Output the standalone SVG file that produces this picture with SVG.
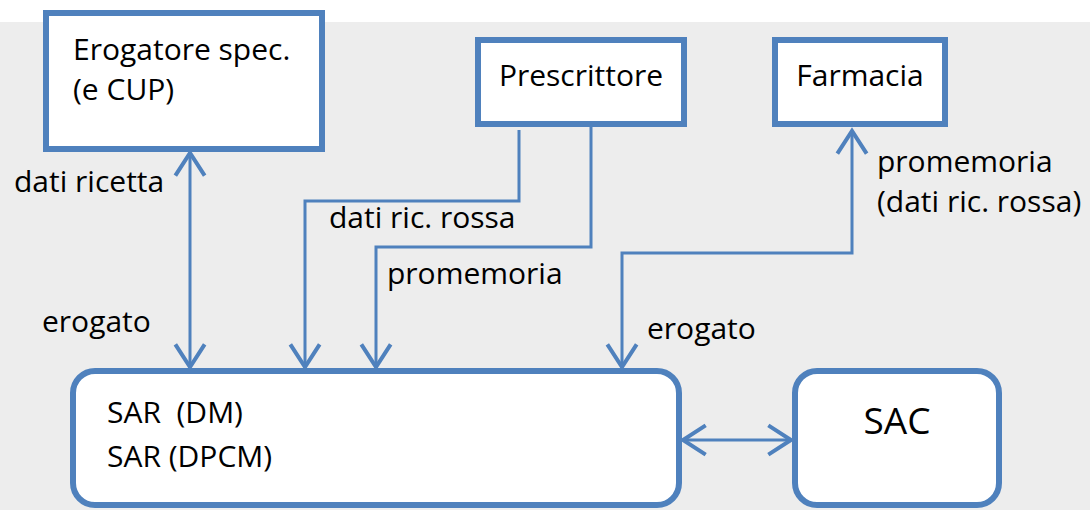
<svg xmlns="http://www.w3.org/2000/svg" width="1090" height="510" viewBox="0 0 1090 510">
  <style>
    .box { fill: #ffffff; stroke: #4f81bd; stroke-width: 6; }
    .t { font-family: "Open Sans", "Liberation Sans", sans-serif; font-size: 30px; fill: #000000; }
    .big { font-size: 37px; }
    .conn { fill: none; stroke: #4f81bd; stroke-width: 3; }
  </style>
  <defs>
    <marker id="arr" markerUnits="userSpaceOnUse" markerWidth="40" markerHeight="40" refX="0" refY="0" viewBox="-20 -15 25 30" orient="auto-start-reverse" overflow="visible">
      <path d="M-17,-11 L0,0 L-17,11" fill="none" stroke="#4f81bd" stroke-width="3"/>
    </marker>
  </defs>
  <rect x="0" y="0" width="1090" height="510" fill="#ffffff"/>
  <rect x="0" y="22" width="1090" height="488" fill="#ededed"/>

  <g id="connectors">
    <path class="conn" d="M190,153 V367" marker-start="url(#arr)" marker-end="url(#arr)"/>
    <path class="conn" d="M519,130 V201 H305 V367" marker-end="url(#arr)"/>
    <path class="conn" d="M591,127 V247 H376 V367" marker-end="url(#arr)"/>
    <path class="conn" d="M622,367 V253 H852 V131" marker-start="url(#arr)" marker-end="url(#arr)"/>
    <path class="conn" d="M683,440 H791" marker-start="url(#arr)" marker-end="url(#arr)"/>
    <text class="t" x="14" y="192">dati ricetta</text>
    <text class="t" x="42" y="332">erogato</text>
    <text class="t" x="329" y="228">dati ric. rossa</text>
    <text class="t" x="387" y="284">promemoria</text>
    <text class="t" x="877" y="172">promemoria</text>
    <text class="t" x="877" y="212">(dati ric. rossa)</text>
    <text class="t" x="647" y="339">erogato</text>
  </g>

  <g id="erogatore">
    <rect class="box" x="46" y="13" width="276" height="136"/>
    <text class="t" x="73" y="60">Erogatore spec.</text>
    <text class="t" x="73" y="100">(e CUP)</text>
  </g>
  <g id="prescrittore">
    <rect class="box" x="478" y="40" width="206" height="84"/>
    <text class="t" x="581" y="86" text-anchor="middle">Prescrittore</text>
  </g>
  <g id="farmacia">
    <rect class="box" x="775" y="40" width="170" height="84"/>
    <text class="t" x="860" y="86" text-anchor="middle">Farmacia</text>
  </g>
  <g id="sar">
    <rect class="box" x="73" y="371" width="606" height="134" rx="22" ry="22"/>
    <text class="t" x="107" y="423" xml:space="preserve">SAR  (DM)</text>
    <text class="t" x="107" y="467">SAR (DPCM)</text>
  </g>
  <g id="sac">
    <rect class="box" x="795" y="371" width="204" height="134" rx="22" ry="22"/>
    <text class="t big" x="897" y="434" text-anchor="middle">SAC</text>
  </g>
</svg>
